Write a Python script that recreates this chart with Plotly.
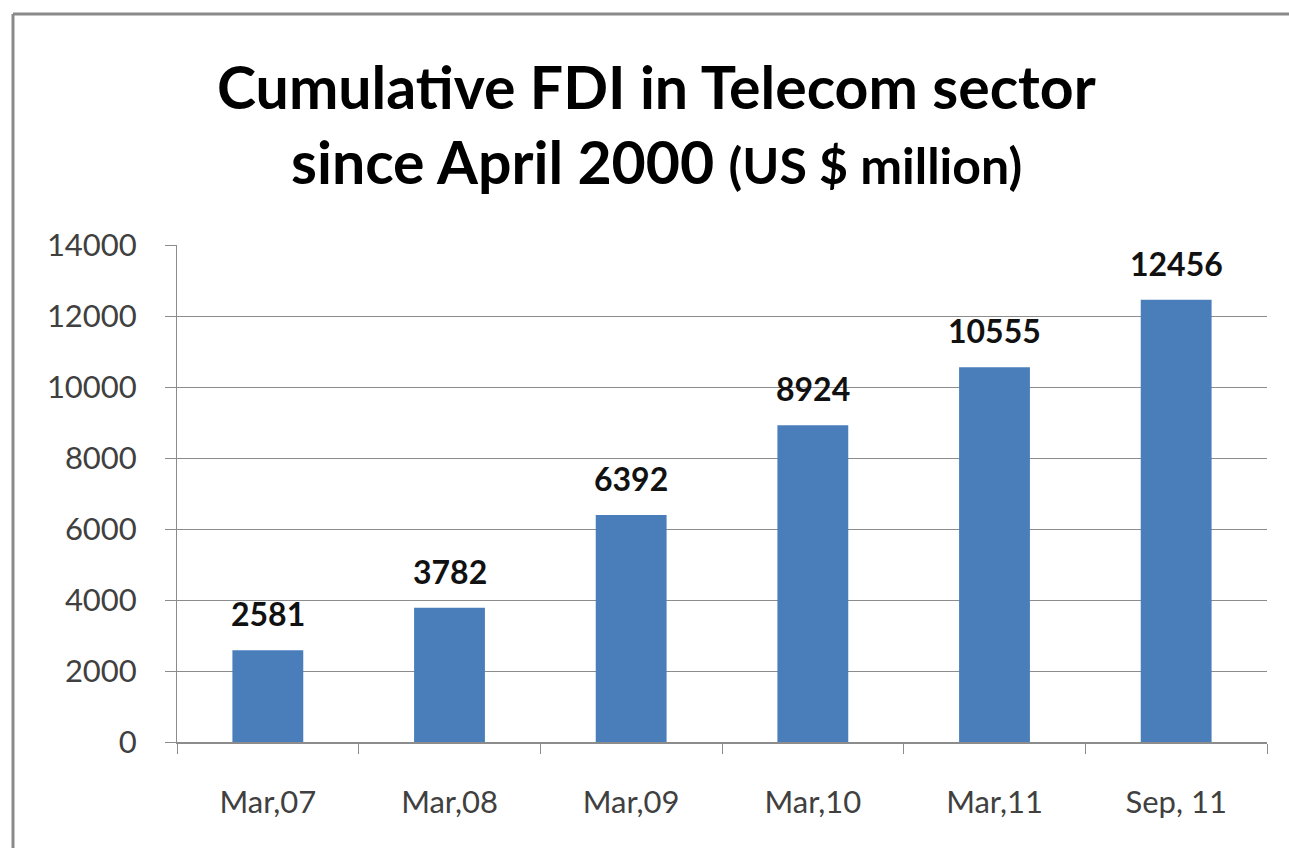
import plotly.graph_objects as go

categories = ["Mar,07", "Mar,08", "Mar,09", "Mar,10", "Mar,11", "Sep, 11"]
fdi_values = [2581, 3782, 6392, 8924, 10555, 12456]
y_ticks = [0, 2000, 4000, 6000, 8000, 10000, 12000, 14000]
y_tick_labels = [str(v) for v in y_ticks]

W, H = 1289, 848
L, R, T, B = 177, 22, 245, 106
plot_w = W - L - R
plot_h = H - T - B

FONT = "Lato"
BAR = "#4a7ebb"
GRID = "#8c8c8c"

fig = go.Figure()
fig.add_trace(go.Bar(
    x=categories, y=fdi_values,
    marker=dict(color=BAR, line=dict(width=0)),
    width=0.39,
    hoverinfo="x+y",
))

# value labels above each bar
for c, v in zip(categories, fdi_values):
    fig.add_annotation(
        x=c, y=v, text=f"<b>{v}</b>", showarrow=False,
        yanchor="bottom", yshift=15,
        font=dict(family=FONT, size=32, color="#111111"),
    )

def px_x(px):
    return (px - L) / plot_w

def px_y(py):
    return (H - B - py) / plot_h

# title, two centred lines
fig.add_annotation(
    xref="paper", yref="paper", x=px_x(656), y=px_y(86),
    text="<b>Cumulative FDI in Telecom sector</b>", showarrow=False,
    xanchor="center", yanchor="middle",
    font=dict(family=FONT, size=59, color="#000000"),
)
fig.add_annotation(
    xref="paper", yref="paper", x=px_x(656), y=px_y(161),
    text="<b>since April 2000 </b><b><span style='font-size:50px'>(US $ million)</span></b>",
    showarrow=False, xanchor="center", yanchor="middle",
    font=dict(family=FONT, size=59, color="#000000"),
)

# outer chart frame (left and top edges visible)
frame = dict(color="#8a8a8a", width=3)
fig.add_shape(type="line", xref="paper", yref="paper",
              x0=px_x(13), y0=px_y(14), x1=px_x(13), y1=px_y(900), line=frame)
fig.add_shape(type="line", xref="paper", yref="paper",
              x0=px_x(13), y0=px_y(14), x1=px_x(1400), y1=px_y(14), line=frame)

fig.update_layout(
    width=W, height=H,
    margin=dict(l=L, r=R, t=T, b=B),
    paper_bgcolor="white", plot_bgcolor="white",
    showlegend=False,
    bargap=0.61,
)
fig.update_yaxes(
    range=[0, 14000], tickvals=y_ticks, ticktext=y_tick_labels,
    showgrid=True, gridcolor=GRID, gridwidth=1,
    showline=True, linecolor=GRID, linewidth=1,
    ticks="outside", ticklen=11, tickcolor=GRID,
    ticklabelstandoff=22,
    tickfont=dict(family=FONT, size=31, color="#404040"),
    zeroline=False,
)
fig.update_xaxes(
    showline=True, linecolor=GRID, linewidth=2,
    ticks="outside", ticklen=10, tickcolor=GRID, tickson="boundaries",
    ticklabelstandoff=32,
    tickfont=dict(family=FONT, size=31, color="#404040"),
    showgrid=False,
)

fig.write_html("out.html")
